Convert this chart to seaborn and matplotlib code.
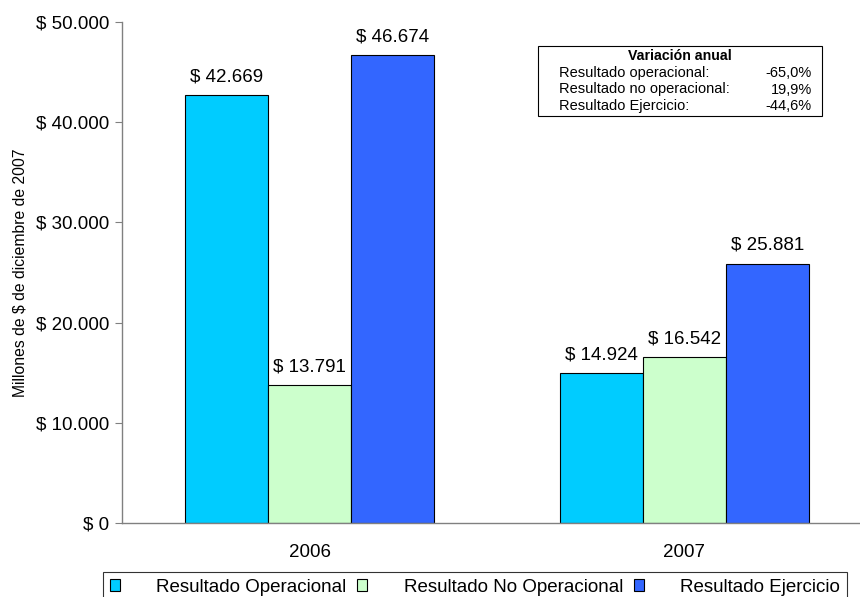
import pandas as pd
import matplotlib.pyplot as plt
import seaborn as sns

years = ['2006', '2007']
series = ['Resultado Operacional', 'Resultado No Operacional', 'Resultado Ejercicio']
operacional = [42669, 14924]
no_operacional = [13791, 16542]
ejercicio = [46674, 25881]
colors = ['#00CCFF', '#CCFFCC', '#3366FF']
variacion_labels = ['Resultado operacional:', 'Resultado no operacional:', 'Resultado Ejercicio:']
variacion_values = ['-65,0%', '19,9%', '-44,6%']

df = pd.DataFrame({
    'Año': years * 3,
    'Serie': [s for s in series for _ in years],
    'Valor': operacional + no_operacional + ejercicio,
})

sns.set_style('white')
plt.rcParams['font.family'] = ['Liberation Sans', 'DejaVu Sans']
plt.rcParams['text.color'] = 'black'
plt.rcParams['axes.labelcolor'] = 'black'
plt.rcParams['xtick.labelcolor'] = 'black'
plt.rcParams['ytick.labelcolor'] = 'black'

fig = plt.figure(figsize=(8.6, 5.97), dpi=100)
ax = fig.add_axes([122 / 860, 1 - 523 / 597, 750 / 860, 501 / 597])

sns.barplot(data=df, x='Año', y='Valor', hue='Serie', hue_order=series,
            palette=colors, width=0.664, gap=0, edgecolor='black', linewidth=0.8,
            saturation=1, legend=False, ax=ax)

for container in ax.containers:
    labels = ['$ ' + f'{v:,.0f}'.replace(',', '.') for v in container.datavalues]
    ax.bar_label(container, labels=labels, padding=7, fontsize=13.5, color='black')

ax.set_ylim(0, 50000)
ax.set_xlim(-0.5, 1.5)
ax.set_yticks(range(0, 50001, 10000))
ax.set_yticklabels(['$ ' + f'{v:,.0f}'.replace(',', '.') for v in range(0, 50001, 10000)], fontsize=13.5)
ax.set_xticks([0, 1])
ax.set_xticklabels(years, fontsize=13.5)
ax.set_xticks([-0.5, 0.5, 1.5], minor=True)
ax.tick_params(axis='x', which='major', length=0, pad=15)
ax.tick_params(axis='x', which='minor', length=5, direction='out', color='#808080')
ax.tick_params(axis='y', length=5, direction='out', color='#808080', left=True, pad=4)
ax.set_xlabel('')
ax.set_ylabel('Millones de $ de diciembre de 2007', fontsize=11.3, labelpad=6)
for side in ['top', 'right']:
    ax.spines[side].set_visible(False)
for side in ['left', 'bottom']:
    ax.spines[side].set_color('#808080')
    ax.spines[side].set_linewidth(1)

# variation box
bx0, by0, bx1, by1 = 538 / 860, 1 - 116 / 597, 822 / 860, 1 - 46 / 597
fig.patches.append(plt.Rectangle((bx0, by0), bx1 - bx0, by1 - by0, transform=fig.transFigure,
                                 facecolor='white', edgecolor='black', linewidth=0.8))
fig.text((bx0 + bx1) / 2, 1 - 56 / 597, 'Variación anual', ha='center', va='center',
         fontsize=10.2, fontweight='bold')
for i, (lab, val) in enumerate(zip(variacion_labels, variacion_values)):
    y = 1 - (73 + 16.5 * i) / 597
    fig.text(559 / 860, y, lab, ha='left', va='center', fontsize=10.5)
    fig.text(812 / 860, y, val, ha='right', va='center', fontsize=10.5)

handles = [plt.Rectangle((0, 0), 1, 1, facecolor=c, edgecolor='black', linewidth=0.8) for c in colors]
leg = fig.legend(handles, series, loc='upper left', bbox_to_anchor=(103 / 860, 1 - 572 / 597),
                 ncol=3, fontsize=13.5, frameon=True, fancybox=False, handlelength=0.55,
                 handleheight=0.55, handletextpad=1.95, columnspacing=0.55, borderpad=0.35,
                 borderaxespad=0)
leg.get_frame().set_edgecolor('black')
leg.get_frame().set_linewidth(0.8)

fig.savefig('out.png', dpi=100)
